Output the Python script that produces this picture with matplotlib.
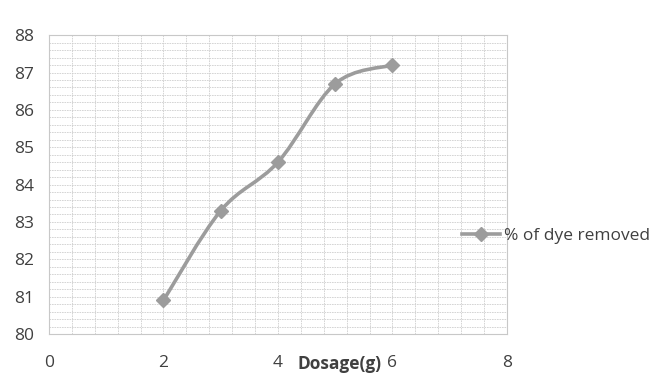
import numpy as np
import matplotlib.pyplot as plt
from matplotlib.path import Path
from matplotlib.patches import PathPatch
from matplotlib.lines import Line2D

# dosage vs dye removal
dosage = [2, 3, 4, 5, 6]
removed = [80.9, 83.3, 84.6, 86.7, 87.2]
series_name = '% of dye removed'
x_ticks = [0, 2, 4, 6, 8]
y_ticks = [80, 81, 82, 83, 84, 85, 86, 87, 88]

plt.rcParams['font.family'] = ['Open Sans', 'DejaVu Sans']

line_col = '#9c9c9c'
grid_col = '#cfcfcf'
text_col = '#404040'
fs = 12.5

fig = plt.figure(figsize=(6.56, 3.74), dpi=100)
ax = fig.add_axes([0.0747, 0.107, 0.698, 0.799])

ax.set_xlim(0, 8)
ax.set_ylim(80, 88)
ax.set_xticks(x_ticks)
ax.set_yticks(y_ticks)
ax.set_xticks(np.arange(0, 8.01, 0.4), minor=True)
ax.set_yticks(np.arange(80, 88.01, 0.2), minor=True)
ax.grid(which='both', color=grid_col, linewidth=0.6, linestyle=(0, (2, 1)))
ax.set_axisbelow(True)
ax.tick_params(which='both', length=0)
ax.tick_params(axis='y', pad=11, labelsize=fs, labelcolor=text_col)
ax.tick_params(axis='x', pad=15, labelsize=fs, labelcolor=text_col)
for s in ax.spines.values():
    s.set_color('#c8c8c8')
    s.set_linewidth(0.8)

# smoothed line (catmull-rom style bezier through the points)
pts = np.column_stack([dosage, removed]).astype(float)
ext = np.vstack([pts[0], pts, pts[-1]])
verts = [tuple(pts[0])]
codes = [Path.MOVETO]
for i in range(1, len(ext) - 2):
    p0, p1, p2, p3 = ext[i - 1], ext[i], ext[i + 1], ext[i + 2]
    c1 = p1 + (p2 - p0) / 6
    c2 = p2 - (p3 - p1) / 6
    verts += [tuple(c1), tuple(c2), tuple(p2)]
    codes += [Path.CURVE4] * 3
ax.add_patch(PathPatch(Path(verts, codes), facecolor='none',
                       edgecolor=line_col, linewidth=2.6, zorder=3))
ax.plot(dosage, removed, linestyle='none', marker='D', markersize=7,
        color=line_col, zorder=4)

ax.annotate('Dosage(g)', xy=(5.08, 0), xycoords=ax.get_xaxis_transform(),
            xytext=(0, -15), textcoords='offset points',
            ha='center', va='top', fontsize=fs, fontweight='bold',
            color=text_col)

handle = Line2D([], [], color=line_col, linewidth=2.6, marker='D',
                markersize=7)
fig.legend([handle], [series_name], loc='center left',
           bbox_to_anchor=(462 / 656, 0.369), frameon=False,
           borderaxespad=0, borderpad=0, handlelength=2.2,
           handletextpad=0.2, fontsize=fs, labelcolor=text_col)

fig.savefig('out.png', dpi=100)
